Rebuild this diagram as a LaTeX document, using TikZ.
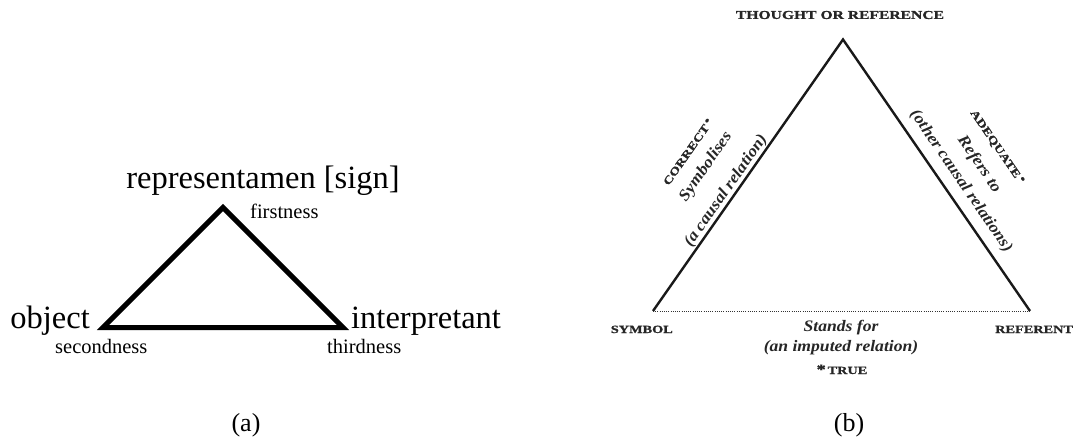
\documentclass[tikz,border=0pt]{standalone}
\usepackage{fontspec}
\setmainfont{Liberation Serif}
\newfontfamily\capsfont{Liberation Serif}[FakeStretch=1.3,FakeBold=1.2]
\newfontfamily\itfont{Liberation Serif}[FakeStretch=1.1]
\begin{document}
\begin{tikzpicture}[x=1pt,y=-1pt,
  bigtext/.style={inner sep=0pt,font=\fontsize{32.5}{36}\selectfont},
  smalltext/.style={inner sep=0pt,font=\fontsize{20.5}{24}\selectfont},
  captext/.style={inner sep=0pt,font=\fontsize{26}{30}\selectfont},
  capslabel/.style={inner sep=0pt,text=black!85,font=\capsfont\bfseries\fontsize{11}{13}\selectfont},
  itlabel/.style={inner sep=0pt,text=black!85,font=\itfont\bfseries\itshape\fontsize{16}{20}\selectfont},
  thickedge/.style={line width=5pt,line join=miter},
  thinedge/.style={line width=2.4pt,line join=miter,black!90},
  dotedge/.style={line width=0.8pt,dash pattern=on 0.8pt off 1.4pt,black!80}
]
\useasboundingbox (0,0) rectangle (1073,441);
% ---------- panel (a)
\coordinate (aT) at (223,207.5);
\coordinate (aL) at (103,327.5);
\coordinate (aR) at (343,327.5);
\draw[thickedge] (aT) -- (aL) -- (aR) -- cycle;
\node[bigtext,anchor=base] (rep) at (263,188) {representamen [sign]};
\node[bigtext,anchor=base east] (obj) at (90,328) {object};
\node[bigtext,anchor=base west] (int) at (351,328) {interpretant};
\node[smalltext,anchor=base west] (first) at (250,218) {firstness};
\node[smalltext,anchor=base west] (second) at (55,353) {secondness};
\node[smalltext,anchor=base west] (third) at (327,353) {thirdness};
\node[captext] (capa) at (246,425) {(a)};
% ---------- panel (b)
\coordinate (bT) at (843,39.5);
\coordinate (bL) at (653,311);
\coordinate (bR) at (1030,311);
\draw[thinedge] (bL) -- (bT) -- (bR);
\draw[dotedge] (bL) -- (bR);
\node[capslabel,font=\capsfont\bfseries\fontsize{12}{14}\selectfont] (thought) at (840,15) {THOUGHT OR REFERENCE};
\node[capslabel,anchor=base east] (symbol) at (673,333) {SYMBOL};
\node[capslabel,anchor=base west] (referent) at (995,333) {REFERENT};
\node[itlabel,anchor=base] (stands) at (841,331) {Stands for};
\node[itlabel,anchor=base] (imputed) at (841,351) {(an imputed relation)};
\node[capslabel,anchor=base] (true) at (842,374) {{\fontsize{14}{14}\selectfont*}\,TRUE};
% left side labels
\node[itlabel,rotate=55] (causal) at (726,191) {(a causal relation)};
\node[itlabel,rotate=55] (symbolises) at (706,167) {Symbolises};
\node[capslabel,rotate=55] (correct) at (688,152) {CORRECT\,\raisebox{0.5ex}{•}};
% right side labels
\node[itlabel,rotate=-55.6] (other) at (961,181.5) {(other causal relations)};
\node[itlabel,rotate=-55.6] (refers) at (979,164.5) {Refers to};
\node[capslabel,rotate=-55.6] (adequate) at (997,147) {ADEQUATE\,\raisebox{0.5ex}{•}};
\node[captext] (capb) at (849,425) {(b)};
\end{tikzpicture}
\end{document}
